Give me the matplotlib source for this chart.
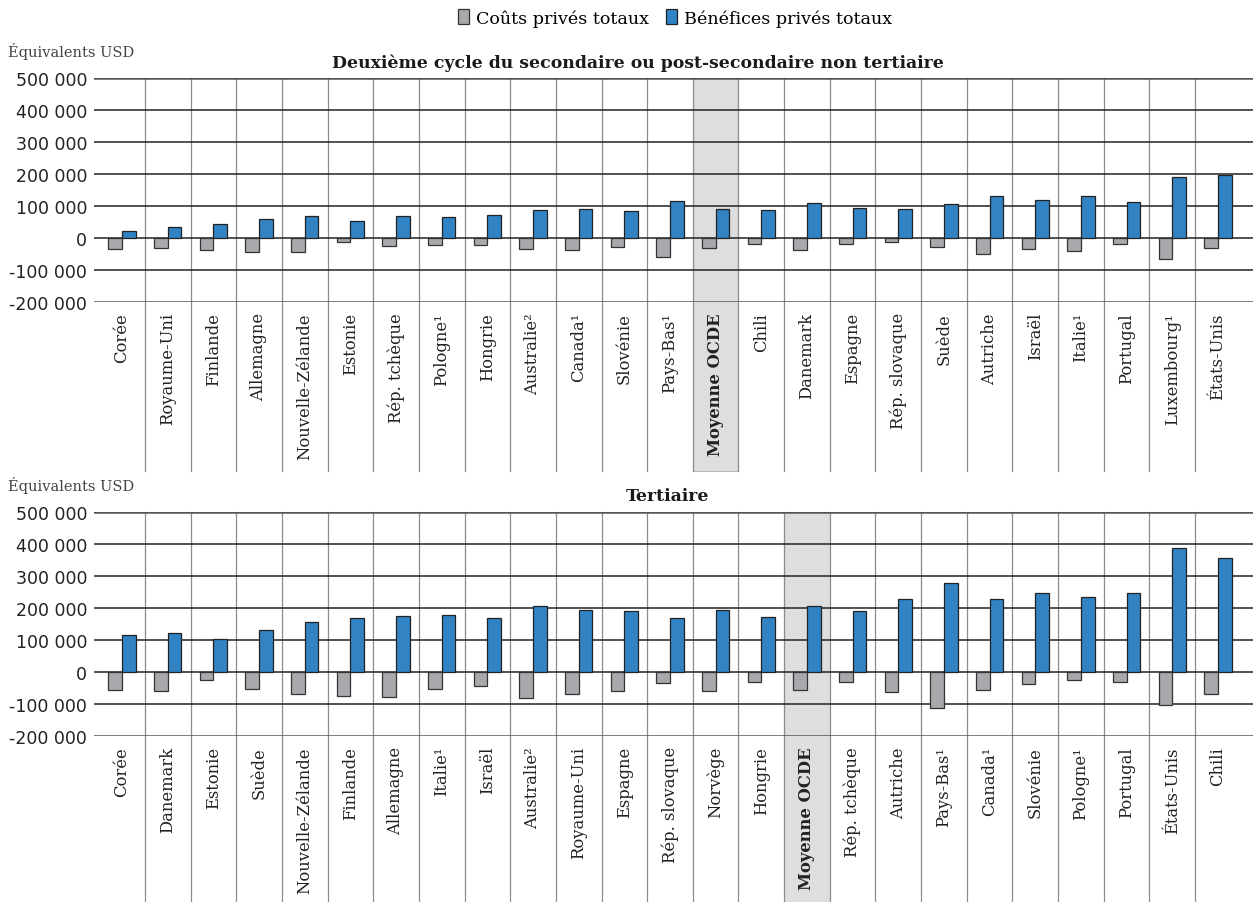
import matplotlib
matplotlib.use("Agg")
import matplotlib.pyplot as plt
import matplotlib.transforms as mtransforms
from matplotlib.patches import Patch, Rectangle

# Panneau 1 : deuxième cycle du secondaire ou post-secondaire non tertiaire
pays_sec = ['Corée', 'Royaume-Uni', 'Finlande', 'Allemagne', 'Nouvelle-Zélande', 'Estonie',
            'Rép. tchèque', 'Pologne¹', 'Hongrie', 'Australie²', 'Canada¹', 'Slovénie',
            'Pays-Bas¹', 'Moyenne OCDE', 'Chili', 'Danemark', 'Espagne', 'Rép. slovaque',
            'Suède', 'Autriche', 'Israël', 'Italie¹', 'Portugal', 'Luxembourg¹', 'États-Unis']
couts_sec = [-34000, -32000, -38000, -43000, -44000, -12500, -24000, -21000, -21000, -34000,
             -36000, -27000, -58000, -32000, -19000, -38000, -19000, -13000, -28000, -50000,
             -33000, -41000, -20000, -66000, -32000]
benef_sec = [22000, 34000, 45000, 58000, 68000, 53000, 69000, 66000, 72000, 86000,
             91000, 83000, 116000, 92000, 88000, 109000, 94000, 91000, 106000, 132000,
             119000, 132000, 114000, 191000, 198000]

# Panneau 2 : tertiaire
pays_ter = ['Corée', 'Danemark', 'Estonie', 'Suède', 'Nouvelle-Zélande', 'Finlande',
            'Allemagne', 'Italie¹', 'Israël', 'Australie²', 'Royaume-Uni', 'Espagne',
            'Rép. slovaque', 'Norvège', 'Hongrie', 'Moyenne OCDE', 'Rép. tchèque', 'Autriche',
            'Pays-Bas¹', 'Canada¹', 'Slovénie', 'Pologne¹', 'Portugal', 'États-Unis', 'Chili']
couts_ter = [-55000, -58000, -26000, -52000, -69000, -76000, -77000, -54000, -43000, -81000,
             -69000, -59000, -33000, -59000, -31000, -57000, -30000, -62000, -111000, -55000,
             -36000, -24000, -30000, -104000, -70000]
benef_ter = [117000, 121000, 103000, 132000, 157000, 170000, 176000, 179000, 169000, 207000,
             195000, 190000, 168000, 195000, 171000, 207000, 192000, 227000, 279000, 227000,
             246000, 233000, 248000, 389000, 355000]

yticks = [500000, 400000, 300000, 200000, 100000, 0, -100000, -200000]

GRIS = '#A7A9AC'
BLEU = '#3183C3'
SERIF = 'DejaVu Serif'

W, H = 1253, 903
fig = plt.figure(figsize=(W / 100, H / 100), dpi=100)


def panneau(top_px, pays, couts, benef, titre, titre_x, bas_px):
    ax = fig.add_axes([94 / W, 1 - (top_px + 224) / H, (W - 94) / W, 224 / H])
    n = len(pays)
    x = list(range(n))
    ax.set_xlim(-0.616, n - 0.5 + 12.3 / 45.65)
    ax.set_ylim(-200000, 500000)
    for s in ax.spines.values():
        s.set_visible(False)
    ax.set_xticks([])
    ax.set_yticks(yticks)
    ax.set_yticklabels([f'{v:,}'.replace(',', ' ') for v in yticks], fontsize=12.5,
                       family='DejaVu Sans', color='#222222')
    ax.tick_params(axis='y', length=0, pad=5)

    # lignes horizontales
    for v in yticks:
        lw = 1.8 if v in (500000, -200000) else 1.1
        c = '#555555' if v in (500000, -200000) else '#222222'
        ax.axhline(v, color=c, lw=lw, zorder=2)

    trans = mtransforms.blended_transform_factory(ax.transData, ax.transAxes)
    y_bas = -(bas_px - (top_px + 224)) / 224

    # bande Moyenne OCDE
    i_moy = pays.index('Moyenne OCDE')
    ax.add_patch(Rectangle((i_moy - 0.5, y_bas), 1, 1 - y_bas, transform=trans,
                           facecolor='#DDDEDF', edgecolor='#AAAAAA', lw=0.6,
                           clip_on=False, zorder=0))

    # séparateurs verticaux
    for i in range(1, n):
        ax.plot([i - 0.5, i - 0.5], [y_bas, 1], transform=trans, color='#8C8C8C',
                lw=0.9, clip_on=False, zorder=1)

    w = 0.3
    ax.bar([i - w / 2 for i in x], couts, width=w, color=GRIS, edgecolor='#333333',
           lw=0.9, zorder=3)
    ax.bar([i + w / 2 for i in x], benef, width=w, color=BLEU, edgecolor='#222222',
           lw=0.9, zorder=3)

    for i, p in enumerate(pays):
        gras = p == 'Moyenne OCDE'
        ax.text(i, -0.045, p, transform=trans, rotation=90, ha='center', va='top',
                fontsize=11.8, family=SERIF, fontweight='bold' if gras else 'normal',
                color='#222222')

    fig.text(8 / W, 1 - (top_px - 27) / H, 'Équivalents USD', fontsize=10.5,
             family=SERIF, color='#444444', va='center', ha='left')
    fig.text(titre_x / W, 1 - (top_px - 16) / H, titre, fontsize=12.4, family=SERIF,
             fontweight='bold', color='#1a1a1a', ha='center', va='center')
    return ax


panneau(79, pays_sec, couts_sec, benef_sec,
        'Deuxième cycle du secondaire ou post-secondaire non tertiaire', 638, 472)
panneau(513, pays_ter, couts_ter, benef_ter, 'Tertiaire', 668, 903)

handles = [Patch(facecolor=GRIS, edgecolor='#333333', lw=0.9),
           Patch(facecolor=BLEU, edgecolor='#222222', lw=0.9)]
fig.legend(handles, ['Coûts privés totaux', 'Bénéfices privés totaux'],
           loc='center', bbox_to_anchor=(675 / W, 1 - 19 / H), ncol=2, frameon=False,
           handlelength=0.6, handleheight=0.9, handletextpad=0.4, columnspacing=1.0,
           prop={'family': SERIF, 'size': 12.6})

fig.savefig('out.png', dpi=100)
